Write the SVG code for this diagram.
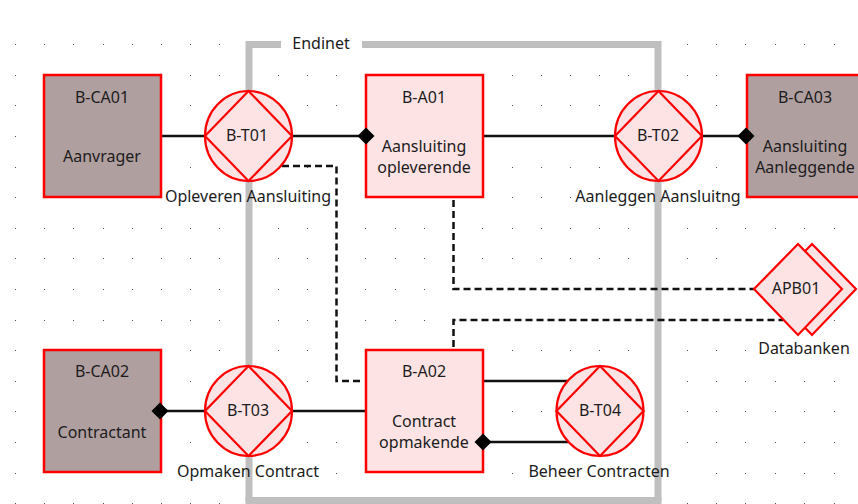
<svg xmlns="http://www.w3.org/2000/svg" width="858" height="504" viewBox="0 0 858 504">
<style>
text{font-family:"Noto Sans","Liberation Sans",sans-serif;font-size:16px;fill:#1c1c1c;text-anchor:middle}
.n{fill:#fde3e3;stroke:#f00;stroke-width:2.5}
.n2{fill:#fde3e3;stroke:#f00;stroke-width:2.2}
.a{fill:#b09f9f;stroke:#f00;stroke-width:2.5}
.c{fill:none;stroke:#111;stroke-width:2.5}
.d{fill:none;stroke:#111;stroke-width:2.5;stroke-dasharray:7 4}
.t{fill:#000}
</style>
<defs>
<g id="tx"><ellipse rx="43.500" ry="45" class="n2"/><path d="M0-45 43.500 0 0 45-43.500 0Z" class="n2"/></g>
<path id="dm" d="M0-8.500 8.500 0 0 8.500-8.500 0Z" class="t"/>
</defs>
<g id="grid" fill="#555">
<path d="M15 44h1v1h-1zM44 44h1v1h-1zM73 44h1v1h-1zM103 44h1v1h-1zM132 44h1v1h-1zM161 44h1v1h-1zM190 44h1v1h-1zM219 44h1v1h-1zM687 44h1v1h-1zM716 44h1v1h-1zM745 44h1v1h-1zM775 44h1v1h-1zM804 44h1v1h-1zM834 44h1v1h-1z"/>
<path d="M15 75h1v1h-1zM190 75h1v1h-1zM219 75h1v1h-1zM278 75h1v1h-1zM307 75h1v1h-1zM336 75h1v1h-1zM512 75h1v1h-1zM541 75h1v1h-1zM570 75h1v1h-1zM599 75h1v1h-1zM628 75h1v1h-1zM687 75h1v1h-1zM716 75h1v1h-1z"/>
<path d="M15 105h1v1h-1zM190 105h1v1h-1zM307 105h1v1h-1zM336 105h1v1h-1zM512 105h1v1h-1zM541 105h1v1h-1zM570 105h1v1h-1zM599 105h1v1h-1zM687 105h1v1h-1zM716 105h1v1h-1z"/>
<path d="M15 136h1v1h-1zM190 136h1v1h-1zM307 136h1v1h-1zM336 136h1v1h-1zM541 136h1v1h-1zM570 136h1v1h-1zM599 136h1v1h-1zM716 136h1v1h-1z"/>
<path d="M15 167h1v1h-1zM190 167h1v1h-1zM307 167h1v1h-1zM512 167h1v1h-1zM541 167h1v1h-1zM570 167h1v1h-1zM599 167h1v1h-1zM687 167h1v1h-1zM716 167h1v1h-1z"/>
<path d="M15 197h1v1h-1zM512 197h1v1h-1zM541 197h1v1h-1zM570 197h1v1h-1zM687 197h1v1h-1zM716 197h1v1h-1z"/>
<path d="M15 228h1v1h-1zM44 228h1v1h-1zM73 228h1v1h-1zM103 228h1v1h-1zM132 228h1v1h-1zM161 228h1v1h-1zM190 228h1v1h-1zM219 228h1v1h-1zM278 228h1v1h-1zM307 228h1v1h-1zM365 228h1v1h-1zM395 228h1v1h-1zM424 228h1v1h-1zM482 228h1v1h-1zM512 228h1v1h-1zM541 228h1v1h-1zM570 228h1v1h-1zM599 228h1v1h-1zM628 228h1v1h-1zM687 228h1v1h-1zM716 228h1v1h-1zM745 228h1v1h-1zM775 228h1v1h-1zM804 228h1v1h-1zM834 228h1v1h-1z"/>
<path d="M15 258h1v1h-1zM44 258h1v1h-1zM73 258h1v1h-1zM103 258h1v1h-1zM132 258h1v1h-1zM161 258h1v1h-1zM190 258h1v1h-1zM219 258h1v1h-1zM278 258h1v1h-1zM307 258h1v1h-1zM365 258h1v1h-1zM395 258h1v1h-1zM424 258h1v1h-1zM482 258h1v1h-1zM512 258h1v1h-1zM541 258h1v1h-1zM570 258h1v1h-1zM599 258h1v1h-1zM628 258h1v1h-1zM687 258h1v1h-1zM716 258h1v1h-1z"/>
<path d="M15 289h1v1h-1zM44 289h1v1h-1zM73 289h1v1h-1zM103 289h1v1h-1zM132 289h1v1h-1zM161 289h1v1h-1zM190 289h1v1h-1zM219 289h1v1h-1zM278 289h1v1h-1zM307 289h1v1h-1zM365 289h1v1h-1zM395 289h1v1h-1zM424 289h1v1h-1zM687 289h1v1h-1zM716 289h1v1h-1z"/>
<path d="M15 320h1v1h-1zM44 320h1v1h-1zM73 320h1v1h-1zM103 320h1v1h-1zM132 320h1v1h-1zM161 320h1v1h-1zM190 320h1v1h-1zM219 320h1v1h-1zM278 320h1v1h-1zM307 320h1v1h-1zM365 320h1v1h-1zM395 320h1v1h-1zM424 320h1v1h-1zM834 320h1v1h-1z"/>
<path d="M15 350h1v1h-1zM190 350h1v1h-1zM219 350h1v1h-1zM278 350h1v1h-1zM307 350h1v1h-1zM512 350h1v1h-1zM541 350h1v1h-1zM570 350h1v1h-1zM599 350h1v1h-1zM628 350h1v1h-1zM687 350h1v1h-1zM716 350h1v1h-1zM745 350h1v1h-1z"/>
<path d="M15 381h1v1h-1zM190 381h1v1h-1zM307 381h1v1h-1zM687 381h1v1h-1zM716 381h1v1h-1zM745 381h1v1h-1zM775 381h1v1h-1zM804 381h1v1h-1zM834 381h1v1h-1z"/>
<path d="M15 411h1v1h-1zM307 411h1v1h-1zM512 411h1v1h-1zM541 411h1v1h-1zM687 411h1v1h-1zM716 411h1v1h-1zM745 411h1v1h-1zM775 411h1v1h-1zM804 411h1v1h-1zM834 411h1v1h-1z"/>
<path d="M15 442h1v1h-1zM190 442h1v1h-1zM307 442h1v1h-1zM336 442h1v1h-1zM687 442h1v1h-1zM716 442h1v1h-1zM745 442h1v1h-1zM775 442h1v1h-1zM804 442h1v1h-1zM834 442h1v1h-1z"/>
<path d="M15 473h1v1h-1zM336 473h1v1h-1zM512 473h1v1h-1zM716 473h1v1h-1zM745 473h1v1h-1zM775 473h1v1h-1zM804 473h1v1h-1zM834 473h1v1h-1z"/>
<path d="M15 503h1v1h-1zM44 503h1v1h-1zM73 503h1v1h-1zM103 503h1v1h-1zM132 503h1v1h-1zM161 503h1v1h-1zM190 503h1v1h-1zM219 503h1v1h-1zM687 503h1v1h-1zM716 503h1v1h-1zM745 503h1v1h-1zM775 503h1v1h-1zM804 503h1v1h-1zM834 503h1v1h-1z"/>
</g>
<g id="endinet">
<path d="M281 44.500H249V501M362 44.500H658V501" fill="none" stroke="#bfbfbf" stroke-width="7"/>
<path d="M245.500 500.500H661.500" stroke="#bfbfbf" stroke-width="7"/>
<text x="321" y="49">Endinet</text>
</g>
<g id="connectors">
<path class="c" d="M161 136H205M293 136H366M483 136H615M703 136H746M160 411H205M293 411H366M483 381H568M483 442H571"/>
<path class="d" d="M282 166H336.500V381H364"/>
<path class="d" d="M453.500 200V289H755"/>
<path class="d" d="M453.500 347V320H783"/>
</g>
<g id="B-CA01"><rect x="44" y="75" width="117" height="122" class="a"/><text x="102" y="103">B-CA01</text><text x="102" y="162">Aanvrager</text></g>
<g id="B-CA02"><rect x="44" y="350" width="117" height="122" class="a"/><text x="102" y="377">B-CA02</text><text x="102" y="438">Contractant</text></g>
<g id="B-CA03"><rect x="747" y="75" width="118" height="122" class="a"/><text x="805" y="103">B-CA03</text><text x="805" y="152">Aansluiting</text><text x="805" y="173">Aanleggende</text></g>
<g id="B-A01"><rect x="366" y="75" width="117" height="122" class="n"/><text x="424" y="103">B-A01</text><text x="424" y="152">Aansluiting</text><text x="424" y="173">opleverende</text></g>
<g id="B-A02"><rect x="366" y="350" width="117" height="122" class="n"/><text x="424" y="377">B-A02</text><text x="424" y="427">Contract</text><text x="424" y="448">opmakende</text></g>
<g id="B-T01"><use href="#tx" x="248.500" y="136"/><text x="247" y="141">B-T01</text><text x="248" y="202">Opleveren Aansluiting</text></g>
<g id="B-T02"><use href="#tx" x="658.500" y="136"/><text x="658" y="141">B-T02</text><text x="658" y="202">Aanleggen Aansluitng</text></g>
<g id="B-T03"><use href="#tx" x="248.500" y="411"/><text x="248" y="416">B-T03</text><text x="248" y="477">Opmaken Contract</text></g>
<g id="B-T04"><use href="#tx" x="600" y="411"/><text x="600" y="416">B-T04</text><text x="599" y="477">Beheer Contracten</text></g>
<g id="APB01"><path d="M812 244 856 289 812 335 768 289Z" class="n2"/><path d="M798 244 842 289 798 335 754 289Z" class="n2"/><text x="796" y="294">APB01</text><text x="804" y="354">Databanken</text></g>
<g id="ends"><use href="#dm" x="366" y="136"/><use href="#dm" x="746" y="136"/><use href="#dm" x="160" y="411"/><use href="#dm" x="483" y="442"/></g>
</svg>
